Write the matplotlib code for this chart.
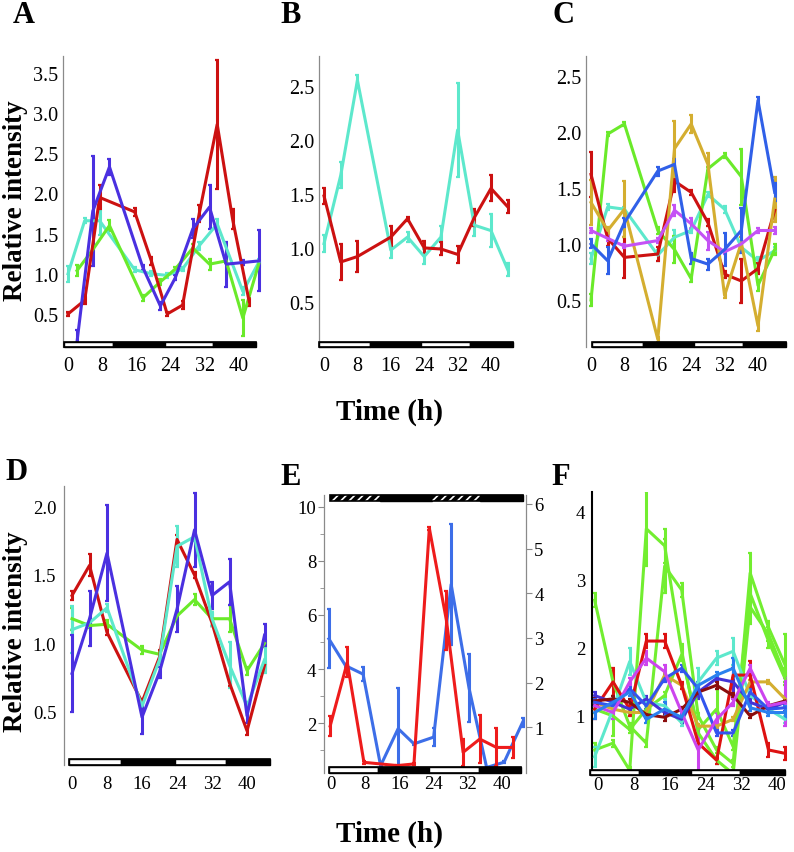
import matplotlib
matplotlib.use('Agg')
import matplotlib.pyplot as plt
from matplotlib.transforms import blended_transform_factory
from matplotlib.patches import Rectangle

plt.rcParams['font.family'] = ['Liberation Serif', 'DejaVu Serif']
plt.rcParams['hatch.linewidth'] = 1.2

# ---------------- data ----------------
x_ticks = [0, 8, 16, 24, 32, 40]

# Panel A
A_red_t = [0, 3.9, 7.4, 15.6, 19.5, 23.2, 26.8, 30.7, 34.9, 38.5, 42.4]
A_red_v = [0.50, 0.67, 1.95, 1.77, 1.16, 0.50, 0.61, 1.75, 2.86, 1.68, 0.65]
A_red_e = [0.03, 0.05, 0.15, 0.05, 0.05, 0.03, 0.05, 0.10, 0.80, 0.12, 0.05]
A_blue_t = [2.1, 5.8, 9.7, 17.5, 21.6, 25.1, 29.2, 33.1, 37.0, 40.9, 44.6]
A_blue_v = [0.15, 1.78, 2.33, 1.08, 0.60, 0.95, 1.56, 1.83, 1.12, 1.14, 1.16]
A_blue_e = [0.15, 0.68, 0.10, 0.03, 0.05, 0.03, 0.12, 0.27, 0.28, 0.03, 0.38]
A_cyan_t = [0, 3.9, 7.4, 15.6, 19.5, 23.2, 26.8, 30.7, 34.9, 40.9, 44.6]
A_cyan_v = [1.00, 1.66, 1.66, 1.05, 1.00, 0.98, 1.06, 1.35, 1.62, 0.78, 1.14]
A_cyan_e = [0.10, 0.03, 0.18, 0.03, 0.03, 0.03, 0.03, 0.05, 0.06, 0.05, 0.05]
A_green_t = [2.1, 5.8, 9.7, 17.5, 21.6, 25.1, 29.2, 33.1, 37.0, 40.9, 44.6]
A_green_v = [1.04, 1.30, 1.60, 0.70, 0.90, 1.06, 1.32, 1.12, 1.16, 0.45, 1.12]
A_green_e = [0.07, 0.03, 0.07, 0.04, 0.04, 0.02, 0.05, 0.07, 0.03, 0.22, 0.03]
A_yticks = [0.5, 1.0, 1.5, 2.0, 2.5, 3.0, 3.5]

# Panel B
B_t = [0, 4, 8, 16, 20, 24, 28, 32, 36, 40, 44]
B_red_v = [1.48, 0.87, 0.92, 1.10, 1.27, 1.00, 0.99, 0.94, 1.28, 1.55, 1.38]
B_red_e = [0.07, 0.17, 0.14, 0.10, 0.02, 0.06, 0.06, 0.08, 0.08, 0.12, 0.06]
B_cyan_v = [1.04, 1.67, 2.55, 0.98, 1.10, 0.92, 1.10, 2.09, 1.21, 1.16, 0.80]
B_cyan_e = [0.08, 0.12, 0.05, 0.07, 0.05, 0.07, 0.10, 0.43, 0.10, 0.15, 0.06]
B_yticks = [0.5, 1.0, 1.5, 2.0, 2.5]

# Panel C
C_t = [0, 4, 8, 16, 20, 24, 28, 32, 36, 40, 44]
C_red_v = [1.62, 1.05, 0.88, 0.91, 1.56, 1.46, 1.19, 0.73, 0.67, 0.78, 1.30]
C_red_e = [0.20, 0.07, 0.18, 0.06, 0.10, 0.02, 0.03, 0.03, 0.20, 0.05, 0.05]
C_green_v = [0.50, 1.98, 2.07, 1.12, 0.95, 0.69, 1.67, 1.79, 1.60, 0.63, 0.95]
C_green_e = [0.05, 0.02, 0.02, 0.03, 0.12, 0.03, 0.02, 0.02, 0.25, 0.05, 0.05]
C_gold_v = [1.37, 1.12, 1.31, 0.15, 1.85, 2.07, 1.71, 0.54, 1.01, 0.27, 1.40]
C_gold_e = [0.20, 0.03, 0.25, 0.02, 0.25, 0.08, 0.10, 0.02, 0.05, 0.05, 0.20]
C_blue_v = [1.00, 0.85, 1.19, 1.65, 1.71, 0.87, 0.82, 0.95, 1.12, 2.28, 1.46]
C_blue_e = [0.04, 0.12, 0.04, 0.04, 0.05, 0.05, 0.05, 0.15, 0.20, 0.03, 0.08]
C_cyan_v = [0.87, 1.33, 1.31, 0.90, 1.06, 1.12, 1.44, 1.31, 0.97, 0.85, 0.94]
C_cyan_e = [0.05, 0.03, 0.02, 0.05, 0.06, 0.02, 0.02, 0.03, 0.03, 0.03, 0.03]
C_purple_v = [1.12, 1.05, 0.98, 1.03, 1.30, 1.18, 1.03, 0.93, 1.00, 1.12, 1.12]
C_purple_e = [0.02, 0.02, 0.02, 0.02, 0.05, 0.05, 0.08, 0.02, 0.02, 0.02, 0.03]
C_yticks = [0.5, 1.0, 1.5, 2.0, 2.5]

# Panel D
D_t = [0, 4, 8, 16, 20, 24, 28, 32, 36, 40, 44]
D_red_v = [1.35, 1.57, 1.08, 0.57, 0.90, 1.76, 1.50, 1.15, 0.71, 0.36, 0.84]
D_red_e = [0.03, 0.08, 0.02, 0.02, 0.05, 0.03, 0.02, 0.02, 0.02, 0.03, 0.03]
D_cyan_v = [1.10, 1.15, 1.26, 0.54, 0.88, 1.71, 1.78, 1.18, 0.84, 0.54, 0.88]
D_cyan_e = [0.17, 0.03, 0.03, 0.03, 0.03, 0.15, 0.03, 0.05, 0.17, 0.03, 0.10]
D_green_v = [1.18, 1.13, 1.14, 0.95, 0.92, 1.20, 1.32, 1.18, 1.18, 0.80, 1.00]
D_green_e = [0.08, 0.02, 0.03, 0.03, 0.02, 0.02, 0.04, 0.05, 0.10, 0.03, 0.03]
D_blue_v = [0.78, 1.18, 1.66, 0.46, 0.79, 1.25, 1.83, 1.35, 1.45, 0.47, 1.06]
D_blue_e = [0.28, 0.20, 0.35, 0.12, 0.04, 0.17, 0.27, 0.10, 0.17, 0.05, 0.08]
D_yticks = [0.5, 1.0, 1.5, 2.0]

# Panel E (red: left axis, blue: right axis)
E_red_t = [-0.2, 3.8, 7.7, 15.5, 19.4, 23.0, 27.0, 30.9, 34.8, 38.7, 42.6]
E_red_v = [1.90, 4.25, 0.56, 0.44, 0.50, 9.20, 5.80, 0.93, 1.42, 1.11, 1.11]
E_red_e = [0.37, 0.55, 0.05, 0.03, 0.03, 0.05, 1.10, 0.50, 0.90, 0.70, 0.40]
E_blue_t = [-0.5, 3.4, 7.5, 11.6, 15.7, 19.4, 24.0, 28.1, 32.3, 36.4, 40.5, 44.8]
E_blue_v = [2.98, 2.38, 2.19, 0.14, 0.97, 0.63, 0.78, 4.20, 1.87, 0.10, 0.22, 1.11]
E_blue_e = [0.66, 0.03, 0.15, 0.02, 0.90, 0.02, 0.20, 1.36, 0.76, 0.02, 0.03, 0.10]
E_left_ticks = [2, 4, 6, 8, 10]
E_left_minor = [1, 3, 5, 7, 9]
E_right_ticks = [1, 2, 3, 4, 5, 6]

# Panel F
F_t = [-0.75, 3.36, 7.09, 10.8, 14.9, 18.7, 22.4, 26.5, 30.2, 34.0, 38.1, 41.8]
F_green1_v = [2.70, 1.50, 0.85, 0.60, 3.20, 2.85, 1.00, 0.50, 0.30, 3.10, 2.30, 1.75]
F_green1_e = [0.10, 0.05, 0.05, 0.05, 0.40, 0.10, 0.05, 0.05, 0.05, 0.30, 0.10, 0.45]
F_green2_v = [0.50, 0.60, 0.20, 3.75, 3.50, 1.95, 0.75, 0.35, 0.15, 2.60, 2.20, 1.60]
F_green2_e = [0.10, 0.05, 0.05, 0.55, 0.25, 0.10, 0.10, 0.05, 0.05, 0.25, 0.10, 0.10]
F_green3_v = [1.10, 1.00, 0.80, 1.10, 1.30, 1.90, 0.80, 1.10, 0.55, 2.80, 2.10, 1.55]
F_green3_e = [0.05, 0.30, 0.05, 0.05, 0.05, 0.10, 0.05, 0.30, 0.05, 0.20, 0.10, 0.10]
F_red_v = [1.10, 1.50, 1.10, 2.10, 2.10, 1.45, 0.60, 0.35, 1.60, 1.60, 0.50, 0.45]
F_red_e = [0.15, 0.20, 0.10, 0.10, 0.10, 0.05, 0.05, 0.05, 0.10, 0.20, 0.10, 0.10]
F_dred_v = [1.22, 1.25, 1.20, 1.02, 0.98, 1.10, 1.35, 1.45, 1.30, 1.00, 1.15, 1.22]
F_dred_e = [0.05, 0.05, 0.05, 0.05, 0.05, 0.03, 0.03, 0.05, 0.03, 0.03, 0.03, 0.03]
F_mag_v = [1.15, 1.05, 1.50, 1.85, 1.65, 1.05, 0.50, 0.95, 1.20, 1.70, 1.15, 1.20]
F_mag_e = [0.05, 0.10, 0.05, 0.10, 0.10, 0.05, 0.35, 0.10, 0.05, 0.05, 0.05, 0.35]
F_cyan_v = [0.40, 1.10, 1.80, 1.20, 1.15, 0.90, 1.50, 1.85, 1.95, 1.30, 1.10, 0.95]
F_cyan_e = [0.15, 0.05, 0.20, 0.05, 0.10, 0.05, 0.20, 0.10, 0.20, 0.10, 0.05, 0.05]
F_gold_v = [1.20, 1.10, 1.05, 1.05, 1.60, 1.45, 0.85, 0.85, 0.95, 1.50, 1.50, 1.25]
F_gold_e = [0.03, 0.03, 0.03, 0.03, 0.03, 0.03, 0.03, 0.03, 0.03, 0.03, 0.03, 0.03]
F_blue1_v = [1.20, 1.15, 1.40, 1.15, 1.55, 1.70, 1.40, 0.75, 0.75, 1.35, 1.10, 1.12]
F_blue1_e = [0.05, 0.05, 0.05, 0.05, 0.05, 0.05, 0.05, 0.05, 0.05, 0.05, 0.05, 0.05]
F_blue2_v = [1.05, 1.20, 1.35, 0.95, 1.10, 0.98, 1.45, 1.60, 1.70, 1.12, 1.05, 1.05]
F_blue2_e = [0.10, 0.05, 0.05, 0.05, 0.10, 0.05, 0.05, 0.05, 0.15, 0.05, 0.05, 0.10]
F_blue3_v = [1.30, 1.20, 1.10, 1.25, 1.05, 0.95, 1.35, 1.55, 1.50, 1.20, 1.10, 1.20]
F_blue3_e = [0.05, 0.05, 0.05, 0.05, 0.05, 0.05, 0.10, 0.05, 0.20, 0.05, 0.05, 0.05]
F_yticks = [1, 2, 3, 4]

# light/dark bar edges (hours)
A_ld = [-0.94, 10.5, 22.7, 33.9, 44.0]
B_ld = [-1.1, 10.9, 23.2, 35.0, 45.2]
C_ld = [0.3, 12.4, 24.6, 36.4, 46.6]
D_ld = [-0.76, 11.2, 23.5, 35.3, 45.3]
E_ld = [-0.55, 11.0, 23.0, 34.6, 44.5]
E_ld_top = [-0.3, 11.4, 23.7, 34.8, 44.9]
F_ld = [-1.8, 9.2, 20.7, 31.7, 41.8]

# colours
RED = '#cc1111'
CYAN = '#5de8cc'
GREEN = '#6aea2a'
VIOLET = '#4a30e0'
BLUE = '#3060e8'
GOLD = '#d4ae30'
PURPLE = '#c452f5'

# ---------------- figure ----------------
W, H = 794, 853
fig = plt.figure(figsize=(W / 100, H / 100), dpi=100)


def make_ax(l, r, t, b):
    ax = fig.add_axes([l / W, 1 - b / H, (r - l) / W, (b - t) / H])
    ax.set_facecolor('none')
    return ax, b - t


def style(ax, xlim, ylim, yticks, fs, xpad, ypad, fmt='{:.1f}',
          scol='#8a8a8a', slw=0.9):
    ax.set_xlim(xlim)
    ax.set_ylim(ylim)
    for s in ['top', 'right', 'bottom']:
        ax.spines[s].set_visible(False)
    ax.spines['left'].set_color(scol)
    ax.spines['left'].set_linewidth(slw)
    ax.set_xticks(x_ticks)
    ax.set_xticklabels([str(v) for v in x_ticks])
    ax.set_yticks(yticks)
    ax.set_yticklabels([fmt.format(v) for v in yticks])
    ax.tick_params(axis='x', length=0, pad=xpad, labelsize=fs)
    ax.tick_params(axis='y', length=0, pad=ypad, labelsize=fs)


def ld_bar(ax, edges, hpx, axh, top=False, hatched=False):
    tr = blended_transform_factory(ax.transData, ax.transAxes)
    h = hpx / axh
    y0 = 1 - h if top else 0
    for i in range(len(edges) - 1):
        x0, x1 = edges[i], edges[i + 1]
        if i % 2 == 0:
            if hatched:
                p = Rectangle((x0, y0), x1 - x0, h, transform=tr, facecolor='black',
                              edgecolor='white', hatch='////', lw=0, clip_on=False, zorder=6)
            else:
                p = Rectangle((x0, y0), x1 - x0, h, transform=tr, facecolor='white',
                              edgecolor='black', lw=1.0, clip_on=False, zorder=6)
        else:
            p = Rectangle((x0, y0), x1 - x0, h, transform=tr, facecolor='black',
                          edgecolor='black', lw=1.0, clip_on=False, zorder=6)
        ax.add_patch(p)
    ax.add_patch(Rectangle((edges[0], y0), edges[-1] - edges[0], h, transform=tr,
                           fill=False, edgecolor='black', lw=1.2, clip_on=False, zorder=7))


def series(ax, t, v, e, c, lw=2.2):
    ax.errorbar(t, v, yerr=e, color=c, lw=lw, elinewidth=lw, capsize=1.4,
                capthick=1.6, zorder=3)


# ---- Panel A ----
ax, ah = make_ax(63, 262, 57, 348)
style(ax, (-1.17, 45.38), (0.089, 3.71), A_yticks, 14.5, 6.5, 3.5)
series(ax, A_cyan_t, A_cyan_v, A_cyan_e, CYAN)
series(ax, A_green_t, A_green_v, A_green_e, GREEN)
series(ax, A_red_t, A_red_v, A_red_e, RED)
series(ax, A_blue_t, A_blue_v, A_blue_e, VIOLET)
ld_bar(ax, A_ld, 5.5, ah)

# ---- Panel B ----
ax, ah = make_ax(319, 515, 57, 348)
style(ax, (-1.2, 45.75), (0.084, 2.774), B_yticks, 14.5, 6.5, 3.5)
series(ax, B_t, B_cyan_v, B_cyan_e, CYAN)
series(ax, B_t, B_red_v, B_red_e, RED)
ld_bar(ax, B_ld, 5.5, ah)

# ---- Panel C ----
ax, ah = make_ax(586, 788, 57, 348)
style(ax, (-1.2, 47.19), (0.081, 2.676), C_yticks, 14.5, 6.5, 3.5)
series(ax, C_t, C_cyan_v, C_cyan_e, CYAN)
series(ax, C_t, C_green_v, C_green_e, GREEN)
series(ax, C_t, C_red_v, C_red_e, RED)
series(ax, C_t, C_gold_v, C_gold_e, GOLD)
series(ax, C_t, C_purple_v, C_purple_e, PURPLE)
series(ax, C_t, C_blue_v, C_blue_e, BLUE)
ld_bar(ax, C_ld, 5.5, ah)

# ---- Panel D ----
ax, ah = make_ax(64, 272, 487, 766)
style(ax, (-1.83, 45.71), (0.11, 2.151), D_yticks, 13.5, 7.5, 5.5)
series(ax, D_t, D_green_v, D_green_e, GREEN)
series(ax, D_t, D_red_v, D_red_e, RED)
series(ax, D_t, D_cyan_v, D_cyan_e, CYAN)
series(ax, D_t, D_blue_v, D_blue_e, VIOLET)
ld_bar(ax, D_ld, 6, ah)

# ---- Panel E ----
ax, ah = make_ax(324, 526, 496, 774)
style(ax, (-1.64, 45.61), (0.166, 10.43), E_left_ticks, 13.5, 1.5, 1.5, fmt='{:d}')
ax.set_yticks(E_left_minor, minor=True)
ax.tick_params(axis='y', which='both', length=4, color='#8a8a8a', direction='out')
ax.tick_params(axis='y', which='minor', length=3)
ax2 = ax.twinx()
ax2.set_ylim(-0.023, 6.2)
ax2.set_xlim(-1.64, 45.61)
for s in ['top', 'left', 'bottom']:
    ax2.spines[s].set_visible(False)
ax2.spines['right'].set_color('#8a8a8a')
ax2.spines['right'].set_linewidth(0.9)
ax2.set_yticks(E_right_ticks)
ax2.set_yticklabels([str(v) for v in E_right_ticks])
ax2.tick_params(axis='y', length=4, color='#8a8a8a', pad=2, labelsize=13.5)
series(ax2, E_blue_t, E_blue_v, E_blue_e, '#3d6ee8')
series(ax, E_red_t, E_red_v, E_red_e, '#ee1c1c')
ax.set_zorder(ax2.get_zorder() + 1)
ld_bar(ax, E_ld, 6, ah)
ld_bar(ax, E_ld_top, 5.5, ah, top=True, hatched=True)

# ---- Panel F ----
ax, ah = make_ax(592, 788, 493, 776)
style(ax, (-1.34, 42.46), (0.132, 4.29), F_yticks, 13.5, 1.0, 5.0, fmt='{:d}',
      scol='black', slw=1.5)
F_series = [
    (F_green1_v, F_green1_e, '#72ee30'),
    (F_green2_v, F_green2_e, '#72ee30'),
    (F_green3_v, F_green3_e, '#72ee30'),
    (F_cyan_v, F_cyan_e, CYAN),
    (F_gold_v, F_gold_e, GOLD),
    (F_red_v, F_red_e, '#dd1111'),
    (F_blue3_v, F_blue3_e, '#4433d6'),
    (F_dred_v, F_dred_e, '#8b0d0d'),
    (F_blue1_v, F_blue1_e, '#3355ee'),
    (F_mag_v, F_mag_e, '#cc44ee'),
    (F_blue2_v, F_blue2_e, '#2a80ee'),
]
for v, e, c in F_series:
    series(ax, F_t, v, e, c)
ld_bar(ax, F_ld, 5, ah)

# ---- text ----
def ftext(x, y, s, **kw):
    fig.text(x / W, 1 - y / H, s, **kw)

for lab, x, y in [('A', 24, 23), ('B', 291, 23), ('C', 564, 23),
                  ('D', 17, 480), ('E', 291, 485), ('F', 561, 485)]:
    ftext(x, y, lab, fontsize=22, fontweight='bold', ha='center', va='baseline')

ftext(390, 412, 'Time (h)', fontsize=21, fontweight='bold', ha='center', va='center')
ftext(390, 834, 'Time (h)', fontsize=21, fontweight='bold', ha='center', va='center')
ftext(16, 201, 'Relative intensity', fontsize=19.5, fontweight='bold',
      rotation=90, ha='center', va='center')
ftext(16, 632, 'Relative intensity', fontsize=19.5, fontweight='bold',
      rotation=90, ha='center', va='center')

fig.savefig('out.png', dpi=100)
